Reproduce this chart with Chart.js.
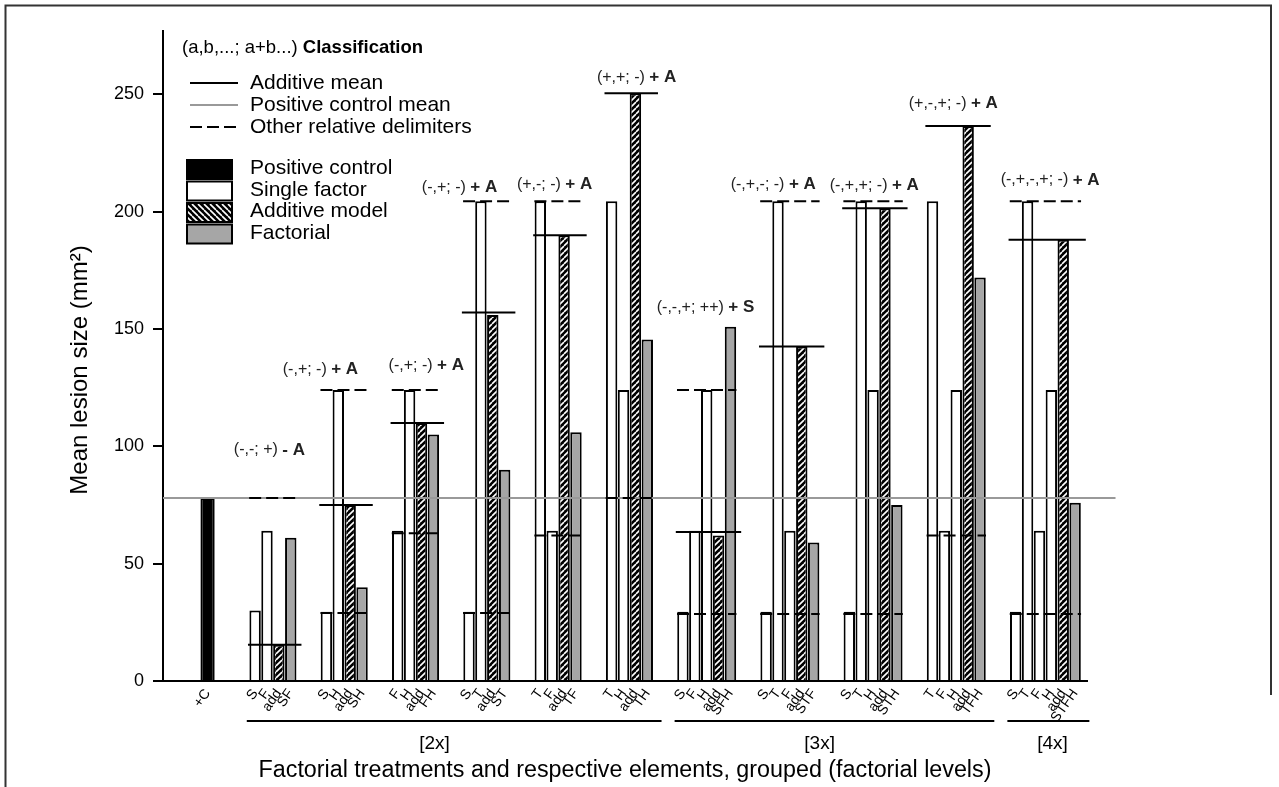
<!DOCTYPE html>
<html>
<head>
<meta charset="utf-8">
<title>Mean lesion size</title>
<script src="https://cdn.jsdelivr.net/npm/chart.js@4.4.1/dist/chart.umd.min.js"></script>
<style>
  html, body { margin: 0; padding: 0; background: #fff; }
  #wrap { position: relative; width: 1279px; height: 787px; }
</style>
</head>
<body>
<div id="wrap"><canvas id="chart"></canvas></div>
<script>
// positive control
const controlLabel = '+C';
const controlValue = 78;

// factorial treatments, their single factors, additive model and factorial result
const groupNames = ['SF', 'SH', 'FH', 'ST', 'TF', 'TH', 'SFH', 'STF', 'STH', 'TFH', 'STFH'];
const singleLabels = [['S','F'], ['S','H'], ['F','H'], ['S','T'], ['T','F'], ['T','H'],
  ['S','F','H'], ['S','T','F'], ['S','T','H'], ['T','F','H'], ['S','T','F','H']];
const singleValues = [[30,64], [29.5,124], [64,124], [29.5,204.5], [204.5,64], [204.5,124],
  [29.5,64,124], [29.5,204.5,64], [29.5,204.5,124], [204.5,64,124], [29.5,204.5,64,124]];
const additiveValues = [15.5, 75, 110, 156, 190, 250.5, 62, 142.5, 201.5, 236.5, 188];
const factorialValues = [61, 40, 105, 90, 106, 145.5, 151, 59, 75, 172, 76];

// delimiters drawn over each group
const additiveMean = [15.5, 75, 110, 157, 190, 250.5, 63.5, 142.5, 201.5, 236.5, 188];
const upperDelimiter = [78, 124, 124, 204.5, 204.5, 78, 124, 204.5, 204.5, null, 204.5];
const lowerDelimiter = [null, 29, 63, 29, 62, null, 28.5, 28.5, 28.5, 62, 28.5];

// classification labels
const classSigns = ['(-,-; +)', '(-,+; -)', '(-,+; -)', '(-,+; -)', '(+,-; -)', '(+,+; -)',
  '(-,-,+; ++)', '(-,+,-; -)', '(-,+,+; -)', '(+,-,+; -)', '(-,+,-,+; -)'];
const classTags = ['- A', '+ A', '+ A', '+ A', '+ A', '+ A', '+ S', '+ A', '+ A', '+ A', '+ A'];
const classAt = [98.5, 132.7, 134.4, 210.3, 211.6, 257.1, 159.1, 211.6, 211.2, 246.2, 213.5];
const classShift = [-0.3, -2.0, 0.9, -2.3, -0.3, 0.6, -0.1, -1.4, 0.1, -0.25, 0.4];

const levels = [2, 3, 4];
const levelNames = ['[2x]', '[3x]', '[4x]'];
const levelAt = [19.1, 51.5, 71.1];
const yTicks = [0, 50, 100, 150, 200, 250];

// ---- slot layout (one slot per bar, two empty slots between groups)
const ctrlSlot = 0;
const firstSlot = [];
let s = 4;
groupNames.forEach((g, i) => { firstSlot.push(s); s += singleLabels[i].length + 4; });
const lastSlot = firstSlot.map((f, i) => f + singleLabels[i].length + 1);

const tickText = new Map();
tickText.set(ctrlSlot, controlLabel);
const singleData = [], addData = [], factData = [];
groupNames.forEach((g, i) => {
  singleLabels[i].forEach((lab, k) => {
    tickText.set(firstSlot[i] + k, lab);
    singleData.push({ x: firstSlot[i] + k, y: singleValues[i][k] });
  });
  const a = firstSlot[i] + singleLabels[i].length;
  tickText.set(a, 'add');
  tickText.set(a + 1, g);
  addData.push({ x: a, y: additiveValues[i] });
  factData.push({ x: a + 1, y: factorialValues[i] });
});

function makeHatch(flip) {
  const c = document.createElement('canvas');
  c.width = 6; c.height = 6;
  const g = c.getContext('2d');
  g.fillStyle = '#000'; g.fillRect(0, 0, 6, 6);
  g.strokeStyle = '#fff'; g.lineWidth = 1.6;
  g.beginPath();
  for (let k = -6; k <= 12; k += 6) {
    if (flip) { g.moveTo(k, 0); g.lineTo(k + 6, 6); }
    else { g.moveTo(k, 6); g.lineTo(k + 6, 0); }
  }
  g.stroke();
  return g.createPattern(c, 'repeat');
}
const hatchBar = makeHatch(false);
const hatchKey = makeHatch(true);
const GRAY = '#a6a6a6';
const FONT = "'Liberation Sans', Arial, sans-serif";

// one line dataset per delimiter segment
const lineSets = [];
groupNames.forEach((g, i) => {
  lineSets.push({ type: 'line', label: 'Additive mean', borderColor: '#000', borderWidth: 2, pointRadius: 0, order: 1,
    data: [{ x: firstSlot[i] - 0.6, y: additiveMean[i] }, { x: lastSlot[i] + 0.9, y: additiveMean[i] }] });
  [upperDelimiter[i], lowerDelimiter[i]].forEach(v => {
    if (v === null) return;
    lineSets.push({ type: 'line', label: 'Other relative delimiters', borderColor: '#000', borderWidth: 2,
      borderDash: [12, 5], pointRadius: 0, order: 1,
      data: [{ x: firstSlot[i] - 0.5, y: v }, { x: lastSlot[i] + 0.5, y: v }] });
  });
});

const decor = {
  id: 'decor',
  afterDraw(chart) {
    const ctx = chart.ctx, xs = chart.scales.x, ys = chart.scales.y;
    ctx.save();
    // classification labels
    ctx.textBaseline = 'middle';
    groupNames.forEach((g, i) => {
      const cx = xs.getPixelForValue((firstSlot[i] + lastSlot[i]) / 2 + classShift[i]);
      const cy = ys.getPixelForValue(classAt[i]);
      ctx.font = '16px ' + FONT;
      const w1 = ctx.measureText(classSigns[i] + ' ').width;
      ctx.font = 'bold 17px ' + FONT;
      const w2 = ctx.measureText(classTags[i]).width;
      const x0 = cx - (w1 + w2) / 2;
      ctx.fillStyle = '#222';
      ctx.textAlign = 'left';
      ctx.font = '16px ' + FONT;
      ctx.fillText(classSigns[i] + ' ', x0, cy);
      ctx.font = 'bold 17px ' + FONT;
      ctx.fillText(classTags[i], x0 + w1, cy);
    });

    // factorial level brackets
    ctx.strokeStyle = '#000'; ctx.lineWidth = 2; ctx.fillStyle = '#000';
    levels.forEach((n, j) => {
      const idx = groupNames.map((g, i) => i).filter(i => singleLabels[i].length === n);
      const x1 = xs.getPixelForValue(firstSlot[idx[0]] - 0.7);
      const x2 = xs.getPixelForValue(lastSlot[idx[idx.length - 1]] + 1.2);
      const y = xs.top + 40;
      ctx.beginPath(); ctx.moveTo(x1, y); ctx.lineTo(x2, y); ctx.stroke();
      ctx.font = "19px 'Liberation Sans Narrow', " + FONT;
      ctx.textAlign = 'center';
      ctx.fillText(levelNames[j], xs.getPixelForValue(levelAt[j]), xs.top + 63);
    });

    // y axis title
    ctx.save();
    ctx.translate(80, 370);
    ctx.rotate(-Math.PI / 2);
    ctx.font = '24px ' + FONT;
    ctx.textAlign = 'center';
    ctx.fillText('Mean lesion size (mm²)', 0, 0);
    ctx.restore();

    // legend
    ctx.textAlign = 'left';
    ctx.font = '18.5px ' + FONT;
    const head = '(a,b,...; a+b...) ';
    ctx.fillText(head, 182, 48);
    const hw = ctx.measureText(head).width;
    ctx.font = 'bold 18.5px ' + FONT;
    ctx.fillText('Classification', 182 + hw, 48);

    const lineKeys = [['Additive mean', '#000', []], ['Positive control mean', '#999', []],
      ['Other relative delimiters', '#000', [12, 5]]];
    lineKeys.forEach((k, j) => {
      const y = 83 + j * 22;
      ctx.strokeStyle = k[1]; ctx.lineWidth = 2; ctx.setLineDash(k[2]);
      ctx.beginPath(); ctx.moveTo(190, y); ctx.lineTo(238, y); ctx.stroke();
      ctx.setLineDash([]);
      ctx.fillStyle = '#000'; ctx.font = '21px ' + FONT;
      ctx.fillText(k[0], 250, y);
    });
    const boxKeys = [['Positive control', '#000'], ['Single factor', '#fff'],
      ['Additive model', hatchKey], ['Factorial', GRAY]];
    boxKeys.forEach((k, j) => {
      const y = 160 + j * 21.5;
      ctx.fillStyle = k[1];
      ctx.fillRect(187, y, 45, 19);
      ctx.strokeStyle = '#000'; ctx.lineWidth = 2;
      ctx.strokeRect(187, y, 45, 19);
      ctx.fillStyle = '#000'; ctx.font = '21px ' + FONT;
      ctx.fillText(k[0], 250, y + 8.5);
    });

    // frame
    ctx.strokeStyle = '#333'; ctx.lineWidth = 2;
    ctx.beginPath();
    ctx.moveTo(5.5, 787); ctx.lineTo(5.5, 5.5); ctx.lineTo(1271, 5.5); ctx.lineTo(1271, 695);
    ctx.stroke();
    ctx.restore();
  }
};

Chart.defaults.font.family = FONT;
Chart.defaults.color = '#000';

const barCommon = { type: 'bar', grouped: false, borderColor: '#000', borderWidth: 2,
  barPercentage: 1, categoryPercentage: 0.96, order: 3 };

new Chart(document.getElementById('chart'), {
  type: 'bar',
  data: {
    datasets: [
      { type: 'line', label: 'Positive control mean', data: [{ x: -3.75, y: controlValue }, { x: lastSlot[lastSlot.length - 1] + 3.4, y: controlValue }],
        borderColor: '#999', borderWidth: 2, pointRadius: 0, clip: false, order: 2 },
      ...lineSets,
      Object.assign({ label: 'Positive control', data: [{ x: ctrlSlot, y: controlValue }], backgroundColor: '#000' },
        barCommon, { categoryPercentage: 1.2 }),
      Object.assign({ label: 'Single factor', data: singleData, backgroundColor: '#fff' }, barCommon),
      Object.assign({ label: 'Additive model', data: addData, backgroundColor: hatchBar }, barCommon),
      Object.assign({ label: 'Factorial', data: factData, backgroundColor: GRAY }, barCommon)
    ]
  },
  options: {
    responsive: true,
    maintainAspectRatio: false,
    animation: false,
    layout: { padding: { left: 0, right: 192, top: 31, bottom: 0 } },
    plugins: { legend: { display: false }, tooltip: { enabled: false } },
    scales: {
      x: {
        type: 'linear', min: -3.75, max: 74, offset: false,
        afterBuildTicks: (scale) => { scale.ticks = [...tickText.keys()].sort((a, b) => a - b).map(v => ({ value: v })); },
        afterFit: (scale) => { scale.height = 106; },
        grid: { display: false, drawTicks: false },
        border: { display: true, color: '#000', width: 2 },
        ticks: { autoSkip: false, minRotation: 55, maxRotation: 55, padding: 5,
          font: { size: 14 }, callback: (v) => tickText.get(v) || '' },
        title: { display: true, text: 'Factorial treatments and respective elements, grouped (factorial levels)',
          font: { size: 23.3 }, padding: { top: 0, bottom: 2 } }
      },
      y: {
        min: 0, max: 277,
        afterBuildTicks: (scale) => { scale.ticks = yTicks.map(v => ({ value: v })); },
        afterFit: (scale) => { scale.width = 163; },
        grid: { drawOnChartArea: false, drawTicks: true, tickLength: 10, color: '#000', lineWidth: 2 },
        border: { display: true, color: '#000', width: 2 },
        ticks: { font: { size: 18 }, padding: 9 }
      }
    }
  },
  plugins: [decor]
});
</script>
</body>
</html>
